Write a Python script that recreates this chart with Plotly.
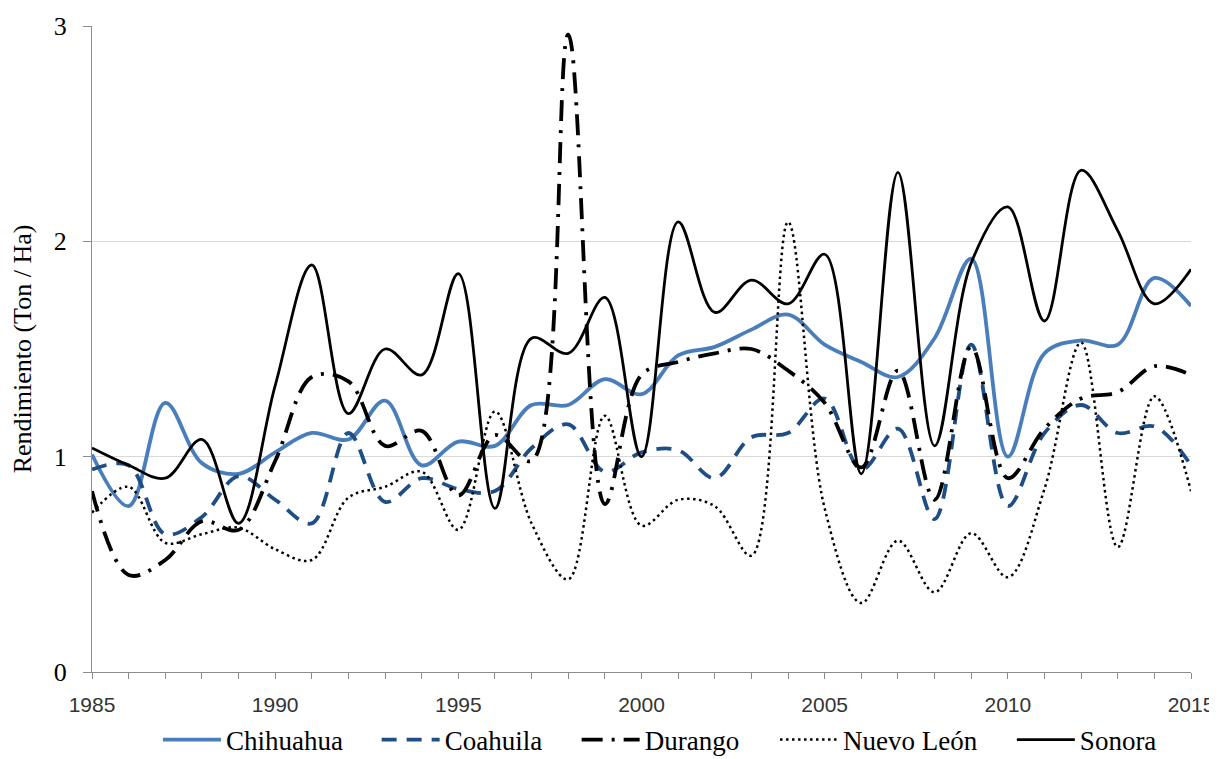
import plotly.graph_objects as go

years = list(range(1985, 2016))
tick_labels = [str(y) if (y - 1985) % 5 == 0 else "" for y in years]

chihuahua = [1.01, 0.77, 1.25, 0.97, 0.92, 1.02, 1.11, 1.08, 1.26, 0.96, 1.07, 1.05, 1.24, 1.24, 1.36, 1.29,
             1.47, 1.51, 1.59, 1.66, 1.52, 1.44, 1.37, 1.55, 1.92, 1.00, 1.48, 1.54, 1.52, 1.83, 1.70]
coahuila = [0.94, 0.96, 0.64, 0.72, 0.91, 0.80, 0.69, 1.11, 0.79, 0.90, 0.85, 0.84, 1.04, 1.15, 0.93, 1.02,
            1.03, 0.90, 1.09, 1.11, 1.27, 0.94, 1.13, 0.71, 1.52, 0.77, 1.11, 1.24, 1.11, 1.14, 0.96]
durango = [0.84, 0.45, 0.52, 0.70, 0.66, 0.98, 1.37, 1.35, 1.05, 1.12, 0.82, 1.10, 0.98, 2.96, 0.78, 1.38,
           1.44, 1.48, 1.50, 1.40, 1.25, 0.95, 1.40, 0.80, 1.51, 0.90, 1.13, 1.27, 1.30, 1.42, 1.38]
nuevo_leon = [0.74, 0.86, 0.60, 0.64, 0.67, 0.57, 0.52, 0.81, 0.86, 0.93, 0.66, 1.21, 0.69, 0.43, 1.19, 0.68,
              0.80, 0.77, 0.54, 2.09, 0.76, 0.32, 0.61, 0.37, 0.645, 0.44, 0.85, 1.53, 0.58, 1.28, 0.84]
sonora = [1.04, 0.96, 0.90, 1.08, 0.69, 1.33, 1.89, 1.20, 1.50, 1.38, 1.85, 0.76, 1.55, 1.48, 1.74, 1.00,
          2.09, 1.67, 1.82, 1.71, 1.94, 0.92, 2.32, 1.05, 1.90, 2.16, 1.63, 2.33, 2.05, 1.71, 1.87]

series = [
    ("Chihuahua", chihuahua, dict(color="#4A7EBB", width=3.8, dash="solid")),
    ("Coahuila", coahuila, dict(color="#1F4E85", width=3.8, dash="15px,10px")),
    ("Durango", durango, dict(color="#000000", width=3.8, dash="21px,9px,3px,9px")),
    ("Nuevo León", nuevo_leon, dict(color="#000000", width=2.5, dash="2.5px,3.5px")),
    ("Sonora", sonora, dict(color="#000000", width=2.8, dash="solid")),
]
legend_ids = ["legend", "legend2", "legend3", "legend4", "legend5"]
legend_x = [0.060, 0.259, 0.441, 0.6215, 0.837]

fig = go.Figure()
for (name, vals, ln), lid in zip(series, legend_ids):
    fig.add_trace(go.Scatter(
        x=years, y=vals, name=name, mode="lines", legend=lid,
        line=dict(shape="spline", smoothing=1.0, **ln),
    ))

serif = "Liberation Serif, Times New Roman, serif"

legend_layout = {}
for lid, lx in zip(legend_ids, legend_x):
    legend_layout[lid] = dict(
        orientation="h", x=lx, xanchor="left", xref="paper",
        y=0.0253, yanchor="middle", yref="container",
        font=dict(family=serif, size=27, color="#000000"),
        itemwidth=58, bgcolor="rgba(0,0,0,0)",
    )

fig.update_layout(
    width=1209, height=751,
    margin=dict(l=84, r=26, t=18, b=87),
    paper_bgcolor="white", plot_bgcolor="white",
    showlegend=True,
    **legend_layout,
    xaxis=dict(
        range=[1985, 2015], tickmode="array", tickvals=years, ticktext=tick_labels,
        showgrid=False, zeroline=False, automargin=False,
        showline=True, linecolor="#8C8C8C", linewidth=1.3,
        ticks="outside", ticklen=6, tickcolor="#8C8C8C", tickwidth=1.3,
        ticklabelstandoff=8,
        tickfont=dict(family="Liberation Sans, Arial, sans-serif", size=21, color="#333333"),
    ),
    yaxis=dict(
        range=[0, 3], tickvals=[0, 1, 2, 3], ticktext=["0", "1", "2", "3"],
        showgrid=True, gridcolor="#D9D9D9", gridwidth=1.3, zeroline=False, automargin=False,
        showline=True, linecolor="#8C8C8C", linewidth=1.3,
        ticks="outside", ticklen=8, tickcolor="#8C8C8C", tickwidth=1.3,
        ticklabelstandoff=11,
        tickfont=dict(family=serif, size=26, color="#000000"),
        title=dict(text="Rendimiento (Ton / Ha)", font=dict(family=serif, size=26, color="#000000"),
                   standoff=17),
    ),
)

fig.write_html("out.html")
